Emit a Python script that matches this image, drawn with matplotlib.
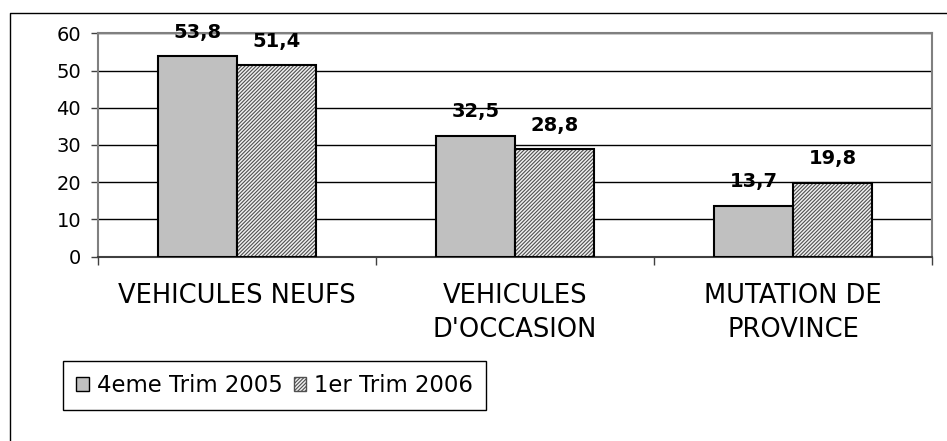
import numpy as np
import matplotlib
matplotlib.use("Agg")
import matplotlib.pyplot as plt
from matplotlib.patches import Patch
from matplotlib.lines import Line2D

## données
categories = ["VEHICULES NEUFS", "VEHICULES\nD'OCCASION", "MUTATION DE\nPROVINCE"]
series_names = ["4eme Trim 2005", "1er Trim 2006"]
trim4_2005 = [53.8, 32.5, 13.7]
trim1_2006 = [51.4, 28.8, 19.8]
yticks = [0, 10, 20, 30, 40, 50, 60]

plt.rcParams['font.family'] = ['DejaVu Sans']
plt.rcParams['hatch.linewidth'] = 0.8

W, H = 947, 441
fig = plt.figure(figsize=(W / 100, H / 100), dpi=100)
left, right, top, bottom = 97.7, 932.3, 33.3, 256.7
ax = fig.add_axes([left / W, 1 - bottom / H, (right - left) / W, (bottom - top) / H])

x = np.arange(len(categories)) + 0.5
w = 0.284
hatch = '/' * 9

## barres
ax.bar(x - w / 2, trim4_2005, w, color='#c0c0c0', edgecolor='black', lw=1.5, zorder=3)
ax.bar(x + w / 2, trim1_2006, w, color='#f0f0f0', edgecolor='#505050', hatch=hatch, lw=0, zorder=3)
ax.bar(x + w / 2, trim1_2006, w, fill=False, edgecolor='black', lw=1.5, zorder=4)

## étiquettes des valeurs
for xs, vals in ((x - w / 2, trim4_2005), (x + w / 2, trim1_2006)):
    for xi, v in zip(xs, vals):
        ax.annotate(f"{v:.1f}".replace('.', ','), (xi, v), xytext=(0, 13.5),
                    textcoords='offset points', ha='center', va='baseline',
                    fontsize=14, fontweight='bold')

ax.set_xlim(0, len(categories))
ax.set_ylim(0, 60)
ax.set_yticks(yticks)
ax.yaxis.grid(True, color='black', lw=1)
ax.set_axisbelow(True)

for s in ('top', 'right', 'left'):
    ax.spines[s].set_color('#808080')
    ax.spines[s].set_linewidth(1.5)
ax.spines['bottom'].set_color('#404040')
ax.spines['bottom'].set_linewidth(1.5)

ax.set_xticks(np.arange(len(categories) + 1))
ax.set_xticklabels([])
ax.set_xticks(x, minor=True)
ax.set_xticklabels(categories, minor=True, fontsize=18.5, linespacing=1.4)
ax.tick_params(axis='x', which='major', length=6, width=1, color='#404040')
ax.tick_params(axis='x', which='minor', length=0, pad=19)
ax.tick_params(axis='y', length=5, width=1, color='#404040', labelsize=14, pad=7)

## cadre extérieur (coupé à droite et en bas)
fig.add_artist(Line2D([10 / W, 10 / W, 1.0], [0, 1 - 13 / H, 1 - 13 / H],
                      transform=fig.transFigure, color='black', lw=1))

## légende
handles = [Patch(facecolor='#c0c0c0', edgecolor='black', lw=1),
           Patch(facecolor='#f0f0f0', edgecolor='#505050', hatch=hatch, lw=1)]
leg = fig.legend(handles=handles, labels=series_names, loc='upper left',
                 bbox_to_anchor=(63 / W, 1 - 361 / H), ncol=2, fontsize=16.4,
                 frameon=True, fancybox=False, edgecolor='black', framealpha=1,
                 handlelength=0.55, handleheight=0.55, handletextpad=0.35,
                 columnspacing=0.5, borderpad=0.58, borderaxespad=0)
leg.get_frame().set_linewidth(1)

plt.savefig('out.png', dpi=100)
